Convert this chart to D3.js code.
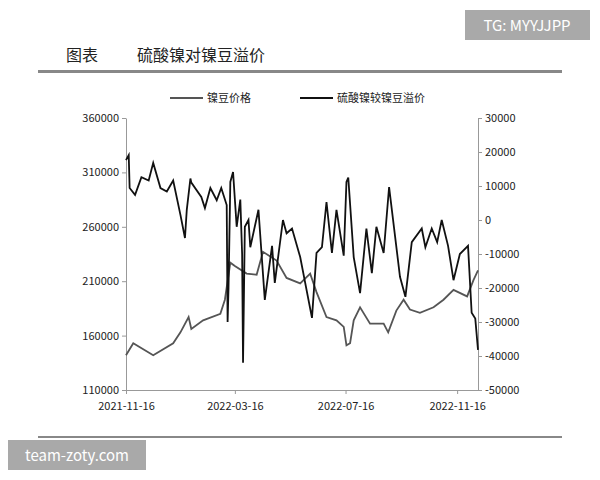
<!DOCTYPE html><html><head><meta charset="utf-8">
<script src="https://cdn.jsdelivr.net/npm/d3@7"></script>
<style>body{margin:0;background:#fff}</style></head><body><svg id="c" width="600" height="480"></svg>
<script>
const startDate = "2021-11-16";
const xTickLabels = ["2021-11-16","2022-03-16","2022-07-16","2022-11-16"];
const leftTicks = [110000,160000,210000,260000,310000,360000];
const rightTicks = [-50000,-40000,-30000,-20000,-10000,0,10000,20000,30000];
const priceDays = [0,8,30,52,60,69,72,85,104,109,115,120,133,144,151,166,177,192,203,210,221,232,240,243,247,251,258,269,284,289,298,306,313,324,339,350,361,376,383,388];
const priceVals = [142000,153000,142000,153000,163000,177000,166000,174000,180000,193000,227000,224000,217000,216000,237000,229000,213000,208000,217000,200000,177000,174000,168000,151000,153000,174000,186000,171000,171000,163000,183000,193000,184000,181000,186000,193000,202000,196000,211000,220000];
const premDays = [0,3,4,10,17,25,30,38,45,52,60,65,67,71,72,83,87,93,100,105,111,112,113,115,118,122,126,128,129,131,135,137,146,153,161,164,173,177,183,192,205,210,216,221,227,232,240,243,245,251,258,265,271,276,284,290,302,308,315,326,330,337,343,348,355,361,368,377,381,385,388];
const premVals = [17600,19100,9400,7400,12600,11600,16800,9400,8400,11600,1500,-5300,3000,12200,11000,6800,3500,9400,5800,9400,4400,-30000,-20000,11200,14100,-2000,6000,-10000,-42000,-2000,0,-8000,3000,-23500,-7600,-18500,0,-3900,-2500,-10900,-28800,-9700,-8000,5300,-9700,3000,-10500,11200,12500,-10900,-21500,-2500,-15600,-2000,-9700,9700,-16700,-22600,-6500,-2500,-8000,-2500,-6500,0,-7600,-17700,-10000,-7600,-27300,-29000,-38200];

const svg = d3.select("#c");
const f = "'Noto Sans CJK SC', 'Noto Sans', sans-serif";
const base = d3.timeParse("%Y-%m-%d")(startDate);
const parse = d3.timeParse("%Y-%m-%d");
const x = d3.scaleTime().domain([base, d3.timeDay.offset(base, 388)]).range([126, 478]);
const yL = d3.scaleLinear().domain([110000,360000]).range([390,118]);
const yR = d3.scaleLinear().domain([-50000,30000]).range([390,118]);

// watermarks
svg.append("rect").attr("x",465).attr("y",10).attr("width",125).attr("height",30).attr("fill","#a9a9a9");
svg.append("text").attr("x",527).attr("y",31).attr("text-anchor","middle").attr("fill","#fff").attr("font-family",f).attr("font-size",15).text("TG: MYYJJPP");
svg.append("rect").attr("x",8).attr("y",440).attr("width",138).attr("height",30).attr("fill","#a9a9a9");
svg.append("text").attr("x",77).attr("y",461).attr("text-anchor","middle").attr("fill","#fff").attr("font-family",f).attr("font-size",15).text("team-zoty.com");

svg.append("text").attr("x",66).attr("y",61).attr("font-family",f).attr("font-size",16).attr("fill","#222").text("图表");
svg.append("text").attr("x",137).attr("y",61).attr("font-family",f).attr("font-size",16).attr("fill","#222").text("硫酸镍对镍豆溢价");
svg.append("rect").attr("x",38).attr("y",70).attr("width",524).attr("height",3).attr("fill","#888");
svg.append("rect").attr("x",38).attr("y",436).attr("width",524).attr("height",2).attr("fill","#888");

// axes
const ax = svg.append("g").attr("transform","translate(0,390)").call(d3.axisBottom(x).tickValues(xTickLabels.map(parse)).tickFormat(d3.timeFormat("%Y-%m-%d")).tickSize(4).tickSizeOuter(0));
const aL = svg.append("g").attr("transform","translate(126,0)").call(d3.axisLeft(yL).tickValues(leftTicks).tickFormat(d=>d).tickSize(4).tickSizeOuter(0));
const aR = svg.append("g").attr("transform","translate(478,0)").call(d3.axisRight(yR).tickValues(rightTicks).tickFormat(d=>d).tickSize(4).tickSizeOuter(0));
[ax,aL,aR].forEach(g=>{g.selectAll("path,line").attr("stroke","#999");g.selectAll("text").attr("font-family",f).attr("font-size",11).attr("fill","#222");});
ax.selectAll("text").attr("dy","1.2em");

const line = (days, vals, ys) => d3.line().x((d,i)=>x(d3.timeDay.offset(base, days[i]))).y((d,i)=>ys(vals[i]))(days);
svg.append("path").attr("d",line(priceDays,priceVals,yL)).attr("fill","none").attr("stroke","#555").attr("stroke-width",1.8);
svg.append("path").attr("d",line(premDays,premVals,yR)).attr("fill","none").attr("stroke","#111").attr("stroke-width",1.8);

// legend
svg.append("line").attr("x1",170).attr("x2",203).attr("y1",98).attr("y2",98).attr("stroke","#555").attr("stroke-width",2);
svg.append("text").attr("x",207).attr("y",102).attr("font-family",f).attr("font-size",11).attr("fill","#222").text("镍豆价格");
svg.append("line").attr("x1",300).attr("x2",333).attr("y1",98).attr("y2",98).attr("stroke","#111").attr("stroke-width",2);
svg.append("text").attr("x",337).attr("y",102).attr("font-family",f).attr("font-size",11).attr("fill","#222").text("硫酸镍较镍豆溢价");
</script></body></html>
